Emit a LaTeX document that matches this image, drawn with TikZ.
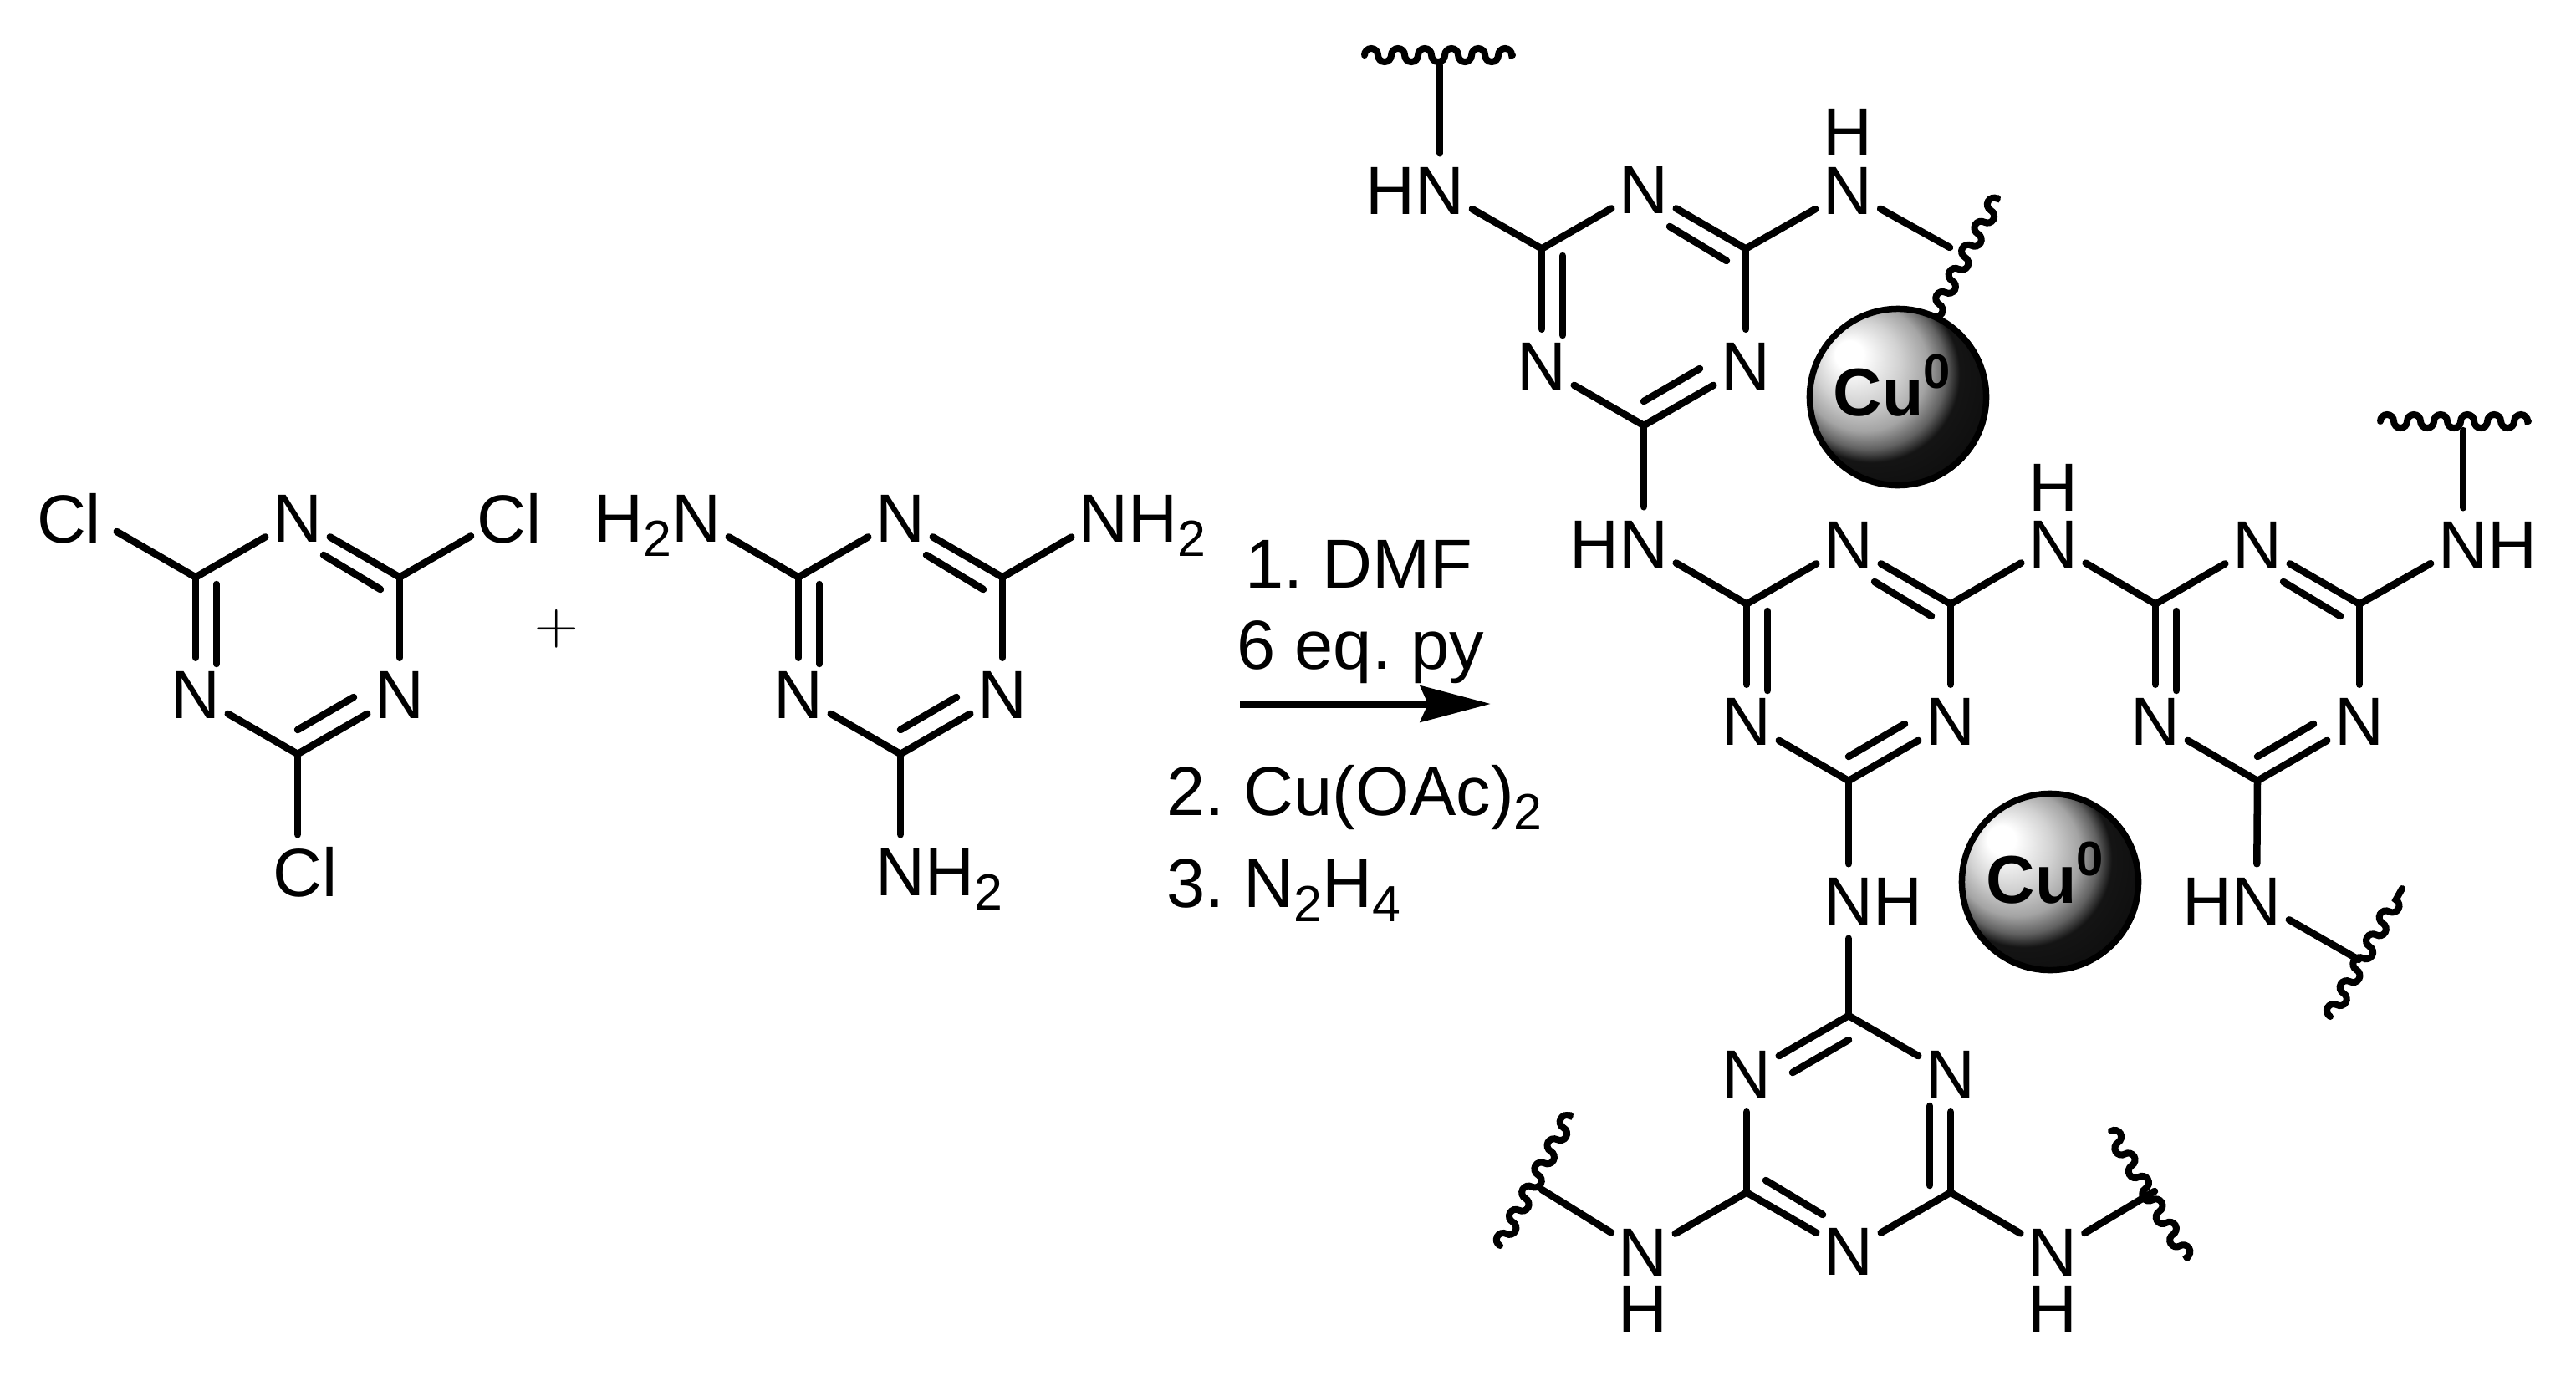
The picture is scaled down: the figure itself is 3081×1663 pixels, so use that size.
\documentclass[tikz,border=0pt]{standalone}
\usepackage{fontspec}
\setmainfont{Liberation Sans}
\usetikzlibrary{arrows.meta,decorations}
\pgfdeclareradialshading{cuball}{\pgfpoint{-15bp}{13bp}}{color(0bp)=(white);color(4bp)=(white);color(12bp)=(black!18);color(18bp)=(black!36);color(22bp)=(black!62);color(25bp)=(black!92);color(50bp)=(black)}
\pgfdeclaredecoration{softwave}{crest}{
\state{crest}[switch if less than=.16cm to final,width=.16cm,next state=trough]{
\pgfpathcurveto{\pgfpoint{0cm}{.044cm}}{\pgfpoint{.036cm}{.08cm}}{\pgfpoint{.08cm}{.08cm}}
\pgfpathcurveto{\pgfpoint{.124cm}{.08cm}}{\pgfpoint{.16cm}{.044cm}}{\pgfpoint{.16cm}{0cm}}
}
\state{trough}[switch if less than=.16cm to final,width=.16cm,next state=crest]{
\pgfpathcurveto{\pgfpoint{0cm}{-.044cm}}{\pgfpoint{.036cm}{-.08cm}}{\pgfpoint{.08cm}{-.08cm}}
\pgfpathcurveto{\pgfpoint{.124cm}{-.08cm}}{\pgfpoint{.16cm}{-.044cm}}{\pgfpoint{.16cm}{0cm}}
}
\state{final}{
\pgfpathlineto{\pgfpointdecoratedpathlast}
}
}
\newcommand{\lowtxt}[1]{\raisebox{-.17cm}[0pt][0pt]{\fontsize{17.3pt}{17.3pt}\selectfont #1}}
\tikzset{
atom/.style={circle,inner sep=0pt,minimum size=.88cm},
bond/.style={line width=.085cm,line cap=round},
wavy/.style={line width=.08cm,line cap=round,decorate,decoration={softwave}},
metal/.style={circle,draw=black,line width=.075cm,shade,shading=cuball,minimum size=2.11cm,inner sep=0pt},
metaltext/.style={anchor=base,inner sep=0pt,font=\fontsize{23pt}{28pt}\selectfont\bfseries},
reagent/.style={anchor=base west,inner sep=0pt,font=\fontsize{23.6pt}{28pt}\selectfont\frenchspacing}
}
\newcommand{\triazine}[3]{
\begin{scope}[shift={#2},scale=#3]
\node[atom](#1Na) at (0,-141){N};
\node[atom](#1Nb) at (-122,70.5){N};
\node[atom](#1Nc) at (122,70.5){N};
\coordinate(#1Ca) at (-122,-70.5);
\coordinate(#1Cb) at (122,-70.5);
\coordinate(#1Cc) at (0,141);
\coordinate(#1Da) at (31,-97);
\coordinate(#1Db) at (99,-56);
\coordinate(#1Dc) at (-97,-62);
\coordinate(#1Dd) at (-97,33);
\coordinate(#1De) at (0,112);
\coordinate(#1Df) at (67,73);
\draw[bond] (#1Na) -- (#1Ca);
\draw[bond] (#1Na) -- (#1Cb);
\draw[bond] (#1Ca) -- (#1Nb);
\draw[bond] (#1Cb) -- (#1Nc);
\draw[bond] (#1Nb) -- (#1Cc);
\draw[bond] (#1Nc) -- (#1Cc);
\draw[bond] (#1Da) -- (#1Db);
\draw[bond] (#1Dc) -- (#1Dd);
\draw[bond] (#1De) -- (#1Df);
\end{scope}
}
\begin{document}
\begin{tikzpicture}[x=.01cm,y=-.01cm,font=\fontsize{23.2pt}{28pt}\selectfont]
\useasboundingbox (0,0) rectangle (3081,1663);
\triazine{A}{(356,761)}{1}
\node[atom,minimum size=.6cm](ClA) at (112,620){\llap{C}l};
\node[atom,minimum size=.76cm](ClB) at (600,620){C\rlap{l}};
\node[atom](ClC) at (356,1043){C\rlap{l}};
\draw[bond] (ACa) -- (ClA);
\draw[bond] (ACb) -- (ClB);
\draw[bond] (ACc) -- (ClC);
\node[font=\fontsize{21.3pt}{26pt}\selectfont,inner sep=0pt](plus) at (666,752){$+$};
\triazine{B}{(1077,761)}{1}
\node[atom](AmA) at (833,620){\llap{H\lowtxt{2}}N};
\node[atom](AmB) at (1320,620){N\rlap{H\lowtxt{2}}};
\node[atom](AmC) at (1077,1043){N\rlap{H\lowtxt{2}}};
\draw[bond] (BCa) -- (AmA);
\draw[bond] (BCb) -- (AmB);
\draw[bond] (BCc) -- (AmC);
\coordinate(arrowS) at (1483,842);
\coordinate(arrowE) at (1783,842);
\draw[line width=.09cm,-{Stealth[length=.84cm,width=.43cm,inset=.09cm]}] (arrowS) -- (arrowE);
\node[reagent](stepA) at (1489,703){1. DMF};
\node[reagent](stepB) at (1479,800){6 eq. py};
\node[reagent](stepC) at (1395,975){2. Cu(OAc)\lowtxt{2}};
\node[reagent](stepD) at (1395,1085){3. N\lowtxt{2}H\lowtxt{4}};
\triazine{C}{(1966,368)}{1}
\triazine{D}{(2211,793)}{1}
\triazine{E}{(2700,793)}{1}
\triazine{F}{(2211,1356)}{-1}
\node[atom](NHa) at (1722,228){\llap{H}N};
\node[atom](NHb) at (2210,228){N};
\node[atom](Hb) at (2210,158){H};
\node[atom](NHc) at (1966,651){\llap{H}N};
\node[atom](NHd) at (2456,651){N};
\node[atom](Hd) at (2456,583){H};
\node[atom](NHe) at (2946,652){N\rlap{H}};
\node[atom](NHf) at (2211,1078){N\rlap{H}};
\node[atom](NHg) at (2699,1078){\llap{H}N};
\node[atom](NHh) at (1965,1498){N};
\node[atom](Hh) at (1965,1566){H};
\node[atom](NHi) at (2455,1498){N};
\node[atom](Hi) at (2455,1566){H};
\draw[bond] (CCa) -- (NHa);
\draw[bond] (CCb) -- (NHb);
\draw[bond] (CCc) -- (NHc);
\draw[bond] (DCa) -- (NHc);
\draw[bond] (DCb) -- (NHd);
\draw[bond] (ECa) -- (NHd);
\draw[bond] (ECb) -- (NHe);
\draw[bond] (DCc) -- (NHf);
\draw[bond] (NHf) -- (FCc);
\draw[bond] (ECc) -- (NHg);
\draw[bond] (FCb) -- (NHh);
\draw[bond] (FCa) -- (NHi);
\coordinate(endA) at (1722,78);
\coordinate(endB) at (2332,296);
\coordinate(endC) at (2946,515);
\coordinate(endD) at (2821,1148);
\coordinate(endE) at (1844,1423);
\coordinate(endF) at (2577,1425);
\draw[bond] (NHa) -- (endA);
\draw[bond] (NHb) -- (endB);
\draw[bond] (NHe) -- (endC);
\draw[bond] (NHg) -- (endD);
\draw[bond] (NHh) -- (endE);
\draw[bond] (NHi) -- (endF);
\coordinate(wavAa) at (1632,66);
\coordinate(wavAb) at (1809,66);
\coordinate(wavBa) at (2304,392);
\coordinate(wavBb) at (2389,237);
\coordinate(wavCa) at (2847,504);
\coordinate(wavCb) at (3024,504);
\coordinate(wavDa) at (2787,1216);
\coordinate(wavDb) at (2873,1063);
\coordinate(wavEa) at (1794,1490);
\coordinate(wavEb) at (1878,1334);
\coordinate(wavFa) at (2525,1353);
\coordinate(wavFb) at (2616,1505);
\draw[wavy] (wavAa) -- (wavAb);
\draw[wavy] (wavBa) -- (wavBb);
\draw[wavy] (wavCa) -- (wavCb);
\draw[wavy] (wavDa) -- (wavDb);
\draw[wavy] (wavEa) -- (wavEb);
\draw[wavy] (wavFa) -- (wavFb);
\node[metal](ballA) at (2270,475){};
\node[metaltext](cuA) at (2263,497){Cu\raisebox{.32cm}{\fontsize{16.5pt}{16.5pt}\selectfont 0}};
\node[metal](ballB) at (2452,1055){};
\node[metaltext](cuB) at (2446,1080){Cu\raisebox{.32cm}{\fontsize{16.5pt}{16.5pt}\selectfont 0}};
\end{tikzpicture}
\end{document}
